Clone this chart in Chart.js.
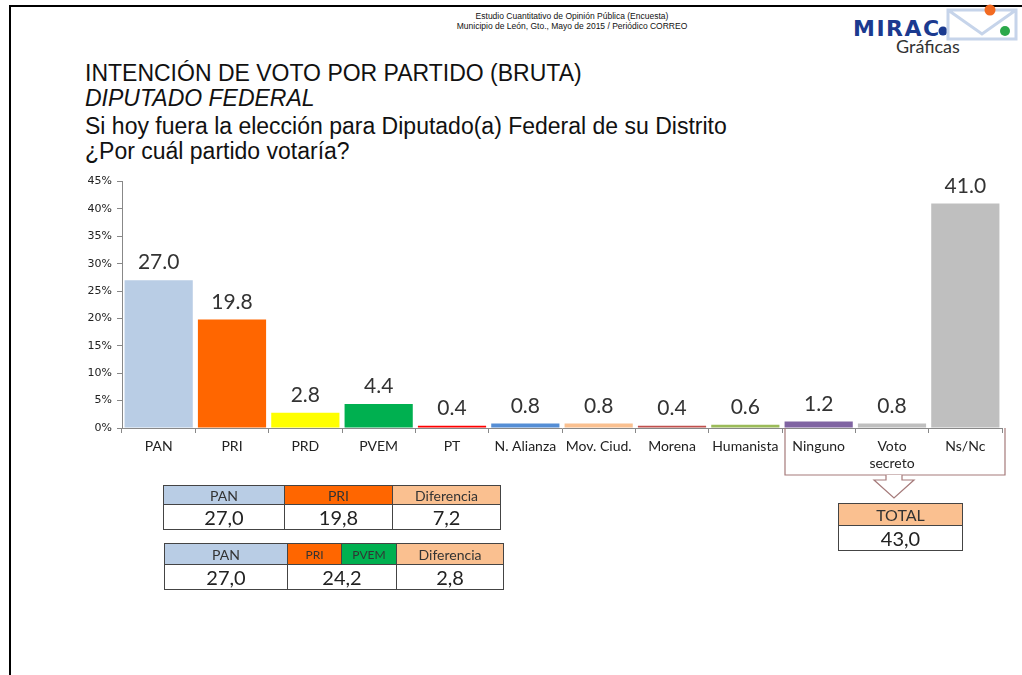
<!DOCTYPE html>
<html>
<head>
<meta charset="utf-8">
<script src="https://cdn.jsdelivr.net/npm/chart.js@4.4.1/dist/chart.umd.min.js"></script>
<style>
  body { margin: 0; width: 1022px; height: 675px; background: #fff; position: relative; overflow: hidden; font-family: "Liberation Sans", Arial, sans-serif; }
  .abs { position: absolute; }
  #frameTop { left: 9px; top: 5px; width: 1013px; height: 2px; background: #000; }
  #frameLeft { left: 9px; top: 5px; width: 2px; height: 670px; background: #000; }
  #study { left: 412px; top: 11px; width: 320px; text-align: center; font-size: 8.5px; line-height: 10px; color: #111; }
  #logo { left: 853px; top: 16px; font-family: "DejaVu Sans", sans-serif; font-weight: bold; font-size: 22px; letter-spacing: 1.5px; color: #1b3a8f; }
  #graf { left: 896px; top: 35px; font-family: Lato, sans-serif; font-size: 18px; color: #333; }
  .title { left: 85px; font-size: 23px; color: #111; white-space: nowrap; }
  #chartBox { left: 60px; top: 170px; width: 950px; height: 335px; }
  table { border-collapse: collapse; position: absolute; font-family: Lato, sans-serif; }
  td { border: 1px solid #444; text-align: center; padding: 0; }
  .hd { font-size: 14px; height: 18px; color: #333; }
  .val { font-size: 20px; height: 24px; color: #222; }
</style>
</head>
<body>
<div id="frameTop" class="abs"></div>
<div id="frameLeft" class="abs"></div>
<div id="study" class="abs">Estudio Cuantitativo de Opinión Pública (Encuesta)<br>Municipio de León, Gto., Mayo de 2015 / Periódico CORREO</div>
<div id="logo" class="abs">MIRAC</div>
<svg class="abs" style="left:934px;top:4px" width="88" height="38">
  <circle cx="9" cy="27" r="4.5" fill="#1b3a8f"/>
  <path d="M14 6 L82 6 L82 35 L14 35 Z M14 6 L48 30 L82 6" fill="none" stroke="#c6d4ea" stroke-width="3"/>
  <circle cx="56" cy="6" r="5.5" fill="#f26a21"/>
  <circle cx="71" cy="27" r="5" fill="#2ba84a"/>
</svg>
<div id="graf" class="abs">Gráficas</div>

<div class="abs title" style="top:60px">INTENCIÓN DE VOTO POR PARTIDO (BRUTA)</div>
<div class="abs title" style="top:85px;font-style:italic">DIPUTADO FEDERAL</div>
<div class="abs title" style="top:113px">Si hoy fuera la elección para Diputado(a) Federal de su Distrito</div>
<div class="abs title" style="top:138px">¿Por cuál partido votaría?</div>

<div id="chartBox" class="abs"><canvas id="chart" width="950" height="335"></canvas></div>

<table style="left:163px;top:485px;width:338px">
  <tr><td class="hd" style="background:#b9cde5;width:120px">PAN</td><td class="hd" style="background:#ff6600;width:107px">PRI</td><td class="hd" style="background:#fac090">Diferencia</td></tr>
  <tr><td class="val" id="t1a"></td><td class="val" id="t1b"></td><td class="val" id="t1c"></td></tr>
</table>
<table style="left:164px;top:543px;width:340px">
  <tr><td class="hd" style="background:#b9cde5;width:122px;height:20px">PAN</td><td class="hd" style="background:#ff6600;width:53px;font-size:12px">PRI</td><td class="hd" style="background:#00b050;width:54px;font-size:12px">PVEM</td><td class="hd" style="background:#fac090">Diferencia</td></tr>
  <tr><td class="val" id="t2a"></td><td class="val" colspan="2" id="t2b"></td><td class="val" id="t2c"></td></tr>
</table>
<table style="left:838px;top:503px;width:125px">
  <tr><td class="hd" style="background:#fac090;font-size:16px;height:21px">TOTAL</td></tr>
  <tr><td class="val" id="tot"></td></tr>
</table>

<script>
const categories = ["PAN", "PRI", "PRD", "PVEM", "PT", "N. Alianza", "Mov. Ciud.", "Morena", "Humanista", "Ninguno", ["Voto", "secreto"], "Ns/Nc"];
const votes = [27.0, 19.8, 2.8, 4.4, 0.4, 0.8, 0.8, 0.4, 0.6, 1.2, 0.8, 41.0];
const barColors = ["#b9cde5", "#ff6600", "#ffff00", "#00b050", "#ff0000", "#558ed5", "#fac090", "#c0504d", "#9bbb59", "#8064a2", "#bfbfbf", "#bfbfbf"];
const yTicks = [0, 5, 10, 15, 20, 25, 30, 35, 40, 45];

// comparison tables
const table1 = ["27,0", "19,8", "7,2"];
const table2 = ["27,0", "24,2", "2,8"];
const totalNoVote = "43,0";

document.getElementById("t1a").textContent = table1[0];
document.getElementById("t1b").textContent = table1[1];
document.getElementById("t1c").textContent = table1[2];
document.getElementById("t2a").textContent = table2[0];
document.getElementById("t2b").textContent = table2[1];
document.getElementById("t2c").textContent = table2[2];
document.getElementById("tot").textContent = totalNoVote;

// value labels over bars
const valueLabels = {
  id: "valueLabels",
  afterDatasetsDraw(chart) {
    const ctx = chart.ctx;
    const meta = chart.getDatasetMeta(0);
    ctx.save();
    ctx.font = "21px Lato, sans-serif";
    ctx.fillStyle = "#333";
    ctx.textAlign = "center";
    ctx.textBaseline = "bottom";
    meta.data.forEach((bar, i) => {
      ctx.fillText(votes[i].toFixed(1), bar.x, bar.y - 7);
    });
    ctx.restore();
  },
};

// bracket under the last three categories + hollow arrow
const bracket = {
  id: "bracket",
  afterDraw(chart) {
    const x = chart.scales.x;
    const ctx = chart.ctx;
    const half = (x.getPixelForValue(1) - x.getPixelForValue(0)) / 2;
    const left = x.getPixelForValue(9) - half + 3;
    const right = x.getPixelForValue(11) + half + 3;
    const top = chart.chartArea.bottom;
    const bottom = top + 47;
    const cx = x.getPixelForValue(10) + 2;
    ctx.save();
    ctx.strokeStyle = "#a57a7a";
    ctx.lineWidth = 1.2;
    ctx.beginPath();
    ctx.moveTo(left, top);
    ctx.lineTo(left, bottom);
    ctx.lineTo(right, bottom);
    ctx.lineTo(right, top);
    ctx.stroke();
    ctx.beginPath();
    ctx.moveTo(cx - 8, bottom);
    ctx.lineTo(cx - 8, bottom + 5);
    ctx.lineTo(cx - 20, bottom + 5);
    ctx.lineTo(cx, bottom + 23);
    ctx.lineTo(cx + 20, bottom + 5);
    ctx.lineTo(cx + 8, bottom + 5);
    ctx.lineTo(cx + 8, bottom);
    ctx.fillStyle = "#fff";
    ctx.fill();
    ctx.stroke();
    ctx.restore();
  },
};

new Chart(document.getElementById("chart"), {
  type: "bar",
  data: {
    labels: categories,
    datasets: [{ data: votes, backgroundColor: barColors, barPercentage: 0.93, categoryPercentage: 1 }],
  },
  options: {
    responsive: false,
    animation: false,
    layout: { padding: { top: 7, right: 8, left: 0, bottom: 0 } },
    plugins: { legend: { display: false }, tooltip: { enabled: false } },
    scales: {
      x: {
        afterFit: (s) => { s.height = 77; },
        grid: { drawOnChartArea: false, tickLength: 5, color: "#888" },
        border: { color: "#888" },
        ticks: { color: "#222", font: { family: "Lato", size: 14 }, padding: 5, maxRotation: 0, autoSkip: false },
      },
      y: {
        min: 0,
        max: 45,
        afterFit: (s) => { s.width = 62; },
        afterBuildTicks: (s) => { s.ticks = yTicks.map((v) => ({ value: v })); },
        grid: { drawOnChartArea: false, tickLength: 5, color: "#888" },
        border: { color: "#888" },
        ticks: { color: "#222", font: { family: "DejaVu Sans", size: 11 }, padding: 5, callback: (v) => v + "%" },
      },
    },
  },
  plugins: [valueLabels, bracket],
});
</script>
</body>
</html>
